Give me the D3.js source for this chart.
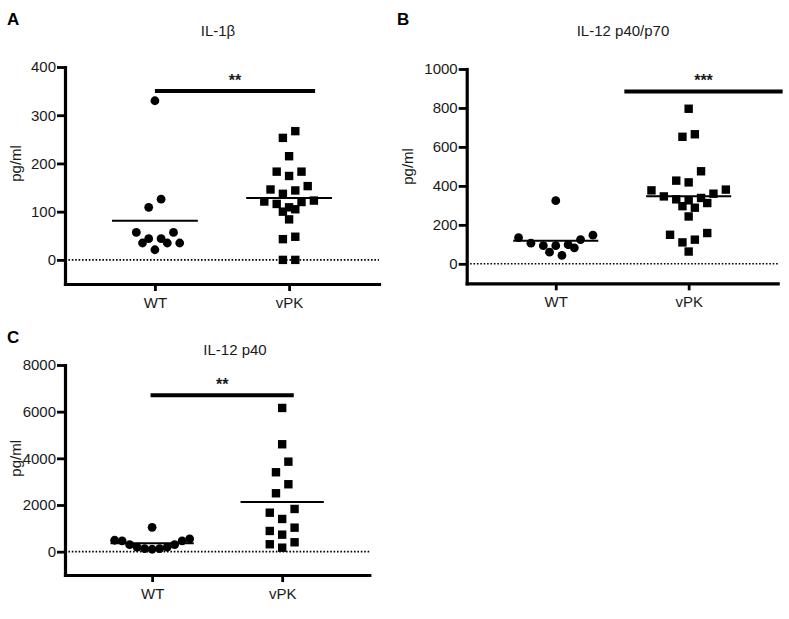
<!DOCTYPE html>
<html>
<head>
<meta charset="utf-8">
<script src="https://cdn.jsdelivr.net/npm/d3@7"></script>
<style>
  html, body { margin: 0; padding: 0; background: #fff; }
  svg { display: block; }
</style>
</head>
<body>
<script>
// ---------------- DATA ----------------
const groups = ["WT", "vPK"];

// Panel A: IL-1β (pg/ml)
const il1b_WT  = [330, 126, 109, 57, 57, 44, 44, 35, 35, 35, 21];
const il1b_vPK = [267, 253, 215, 183, 183, 174, 153, 146, 144, 137, 123, 121, 120, 116, 109, 105, 100, 84, 48, 43, 0, 0];
const il1b_ticks = [0, 100, 200, 300, 400];

// Panel B: IL-12 p40/p70 (pg/ml)
const p70_WT  = [324, 147, 134, 124, 106, 98, 93, 93, 82, 60, 43];
const p70_vPK = [796, 665, 652, 475, 427, 418, 381, 377, 360, 346, 338, 331, 326, 312, 296, 288, 243, 158, 149, 124, 110, 63];
const p70_ticks = [0, 200, 400, 600, 800, 1000];

// Panel C: IL-12 p40 (pg/ml)
const p40_WT  = [1045, 544, 489, 459, 459, 300, 300, 189, 189, 129, 129, 103];
const p40_vPK = [6159, 4603, 3857, 3403, 2889, 2503, 1830, 1671, 1401, 1029, 887, 729, 403, 317, 171];
const p40_ticks = [0, 2000, 4000, 6000, 8000];

const titles = ["IL-1β", "IL-12 p40/p70", "IL-12 p40"];
const letters = ["A", "B", "C"];
const stars = ["**", "***", "**"];
const sigLevels = [350, 885, 6700];
const yLabel = "pg/ml";

// ---------------- LAYOUT ----------------
const W = 789, H = 619;
const FONT = "'Liberation Sans', Arial, Helvetica, sans-serif";
const TXT = "#1a1a1a";

const panels = [
  { title: titles[0], letter: letters[0], data: { WT: il1b_WT, vPK: il1b_vPK }, ticks: il1b_ticks, yMin: -50,
    x0: 65, x1: 379, yTop: 67, yBottom: 284, letterX: 7, letterY: 25, titleX: 218, titleY: 36, labelX: 15, binH: 8.6,
    sig: { v: sigLevels[0], o1: 0, o2: 26, text: stars[0] } },
  { title: titles[1], letter: letters[1], data: { WT: p70_WT, vPK: p70_vPK }, ticks: p70_ticks, yMin: -100,
    x0: 466.7, x1: 777.7, yTop: 69, yBottom: 283.3, letterX: 397, letterY: 25, titleX: 623, titleY: 36, labelX: 407.5, binH: 11.5,
    sig: { v: sigLevels[1], o1: 68.6, o2: 94, text: stars[1] } },
  { title: titles[2], letter: letters[2], data: { WT: p40_WT, vPK: p40_vPK }, ticks: p40_ticks, yMin: -1000,
    x0: 65, x1: 369.3, yTop: 365, yBottom: 575, letterX: 7, letterY: 342.5, titleX: 235, titleY: 355, labelX: 15, binH: 11.5,
    sig: { v: sigLevels[2], o1: -1.6, o2: 11.6, text: stars[2] } }
];

const svg = d3.select("body").append("svg")
  .attr("width", W).attr("height", H)
  .attr("viewBox", `0 0 ${W} ${H}`);
svg.append("rect").attr("width", W).attr("height", H).attr("fill", "#fff");

// Binned scatter-dot layout (Prism-like): group points of similar height,
// spread each group horizontally around the column centre; shift a row by
// half a slot when it would sit on top of the row above.
function swarm(values, y, cx, binH) {
  const gap = 12.4, maxW = 75, minD = 9;
  const items = values.map(v => ({ v, py: y(v) })).sort((a, b) => b.v - a.v);
  const bins = [];
  items.forEach(it => {
    const cur = bins[bins.length - 1];
    if (cur && Math.abs(it.py - cur[0].py) <= binH) cur.push(it);
    else bins.push([it]);
  });
  const out = [];
  bins.forEach(bin => {
    bin.sort((a, b) => a.v - b.v);
    const n = bin.length;
    const s = n > 1 ? Math.min(gap, maxW / (n - 1)) : 0;
    const base = bin.map((it, i) => {
      let slot;
      if (n % 2 === 1) {
        const k = Math.ceil(i / 2);
        slot = i === 0 ? 0 : (i % 2 === 1 ? -k : k);
      } else {
        const k = Math.floor(i / 2) + 0.5;
        slot = i % 2 === 0 ? -k : k;
      }
      return { v: it.v, dx: slot * s, y: it.py };
    });
    const shifts = [0, gap / 2, -gap / 2];
    let best = null, bestScore = -Infinity;
    for (const sh of shifts) {
      let mind = Infinity;
      base.forEach(b => out.forEach(p => {
        const d = Math.hypot(cx + b.dx + sh - p.x, b.y - p.y);
        if (d < mind) mind = d;
      }));
      if (mind >= minD) { best = sh; break; }
      if (mind > bestScore) { bestScore = mind; best = sh; }
    }
    base.forEach(b => out.push({ v: b.v, x: cx + b.dx + best, y: b.y }));
  });
  return out;
}

panels.forEach(cfg => {
  const g = svg.append("g");
  const x = d3.scalePoint().domain(groups).range([cfg.x0, cfg.x1]).padding(0.67);
  const y = d3.scaleLinear().domain([cfg.yMin, d3.max(cfg.ticks)]).range([cfg.yBottom, cfg.yTop]);

  // dotted zero line
  g.append("line")
    .attr("x1", cfg.x0).attr("x2", cfg.x1)
    .attr("y1", y(0)).attr("y2", y(0))
    .attr("stroke", "#000").attr("stroke-width", 1.6)
    .attr("stroke-dasharray", "1.6,1.8");

  // y axis
  const ya = g.append("g")
    .attr("transform", `translate(${cfg.x0},0)`)
    .call(d3.axisLeft(y).tickValues(cfg.ticks).tickSize(8).tickSizeOuter(0).tickPadding(1).tickFormat(d3.format("d")));
  ya.select(".domain").attr("stroke", "#000").attr("stroke-width", 3.2).attr("stroke-linecap", "square");
  ya.selectAll(".tick line").attr("stroke", "#000").attr("stroke-width", 2.8);
  ya.selectAll(".tick text").attr("fill", TXT).attr("font-size", 15).attr("font-family", FONT);

  // x axis
  const xa = g.append("g")
    .attr("transform", `translate(0,${cfg.yBottom})`)
    .call(d3.axisBottom(x).tickSize(7).tickSizeOuter(0).tickPadding(6));
  xa.select(".domain").attr("stroke", "#000").attr("stroke-width", 3.2).attr("stroke-linecap", "square");
  xa.selectAll(".tick line").attr("stroke", "#000").attr("stroke-width", 2.8);
  xa.selectAll(".tick text").attr("fill", TXT).attr("font-size", 15).attr("font-family", FONT);

  // points
  groups.forEach(grp => {
    const pts = swarm(cfg.data[grp], y, x(grp), cfg.binH);
    if (grp === "WT") {
      g.append("g").selectAll("circle").data(pts).join("circle")
        .attr("cx", d => d.x).attr("cy", d => d.y).attr("r", 4.4).attr("fill", "#000");
    } else {
      const s = 8.4;
      g.append("g").selectAll("rect").data(pts).join("rect")
        .attr("x", d => d.x - s / 2).attr("y", d => d.y - s / 2)
        .attr("width", s).attr("height", s).attr("fill", "#000");
    }
    // mean line
    const m = d3.mean(cfg.data[grp]);
    const hw = 0.32 * x.step();
    g.append("line")
      .attr("x1", x(grp) - hw).attr("x2", x(grp) + hw)
      .attr("y1", y(m)).attr("y2", y(m))
      .attr("stroke", "#000").attr("stroke-width", 2);
  });

  // significance bar
  const bx1 = x("WT") + cfg.sig.o1, bx2 = x("vPK") + cfg.sig.o2;
  g.append("line")
    .attr("x1", bx1).attr("x2", bx2)
    .attr("y1", y(cfg.sig.v)).attr("y2", y(cfg.sig.v))
    .attr("stroke", "#000").attr("stroke-width", 4);
  g.append("text")
    .attr("x", (bx1 + bx2) / 2).attr("y", y(cfg.sig.v) - 5.5)
    .attr("text-anchor", "middle").attr("font-family", FONT)
    .attr("font-size", 16).attr("font-weight", "bold").attr("fill", TXT)
    .text(cfg.sig.text);

  // title
  g.append("text")
    .attr("x", cfg.titleX).attr("y", cfg.titleY)
    .attr("text-anchor", "middle").attr("font-family", FONT)
    .attr("font-size", 15).attr("fill", TXT)
    .text(cfg.title);

  // panel letter
  g.append("text")
    .attr("x", cfg.letterX).attr("y", cfg.letterY)
    .attr("font-family", FONT).attr("font-size", 17).attr("font-weight", "bold").attr("fill", "#000")
    .text(cfg.letter);

  // y label
  const ly = (y(d3.max(cfg.ticks)) + y(0)) / 2;
  g.append("text")
    .attr("transform", `translate(${cfg.labelX},${ly}) rotate(-90)`)
    .attr("text-anchor", "middle").attr("dominant-baseline", "central")
    .attr("font-family", FONT).attr("font-size", 15).attr("fill", TXT)
    .text(yLabel);
});
</script>
</body>
</html>
